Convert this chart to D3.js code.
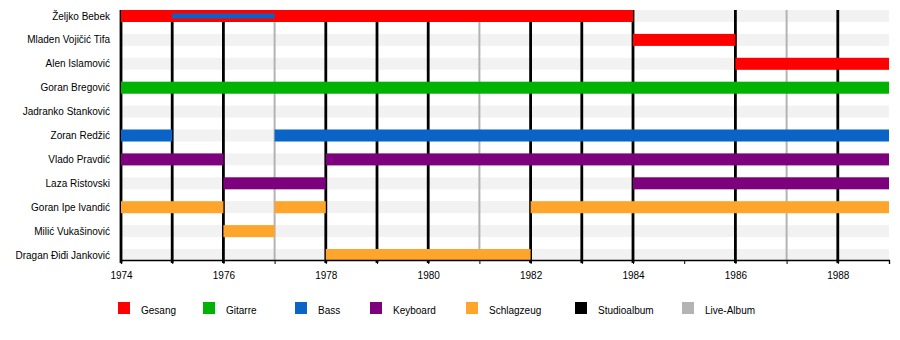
<!DOCTYPE html>
<html>
<head>
<meta charset="utf-8">
<script src="https://cdn.jsdelivr.net/npm/d3@7"></script>
<style>
  html, body { margin: 0; padding: 0; background: #fff; }
  svg { display: block; font-family: "Liberation Sans", Arial, sans-serif; }
</style>
</head>
<body>
<svg id="chart" width="900" height="340"></svg>
<script>
// ---- Data ----
const members = [
  "Željko Bebek", "Mladen Vojičić Tifa", "Alen Islamović", "Goran Bregović",
  "Jadranko Stanković", "Zoran Redžić", "Vlado Pravdić", "Laza Ristovski",
  "Goran Ipe Ivandić", "Milić Vukašinović", "Dragan Điđi Janković"
];
const roles = ["Gesang", "Gitarre", "Bass", "Keyboard", "Schlagzeug"];
const albumTypes = ["Studioalbum", "Live-Album"];
// [member, role, start, end]
const periods = [
  ["Željko Bebek", "Gesang", 1974, 1984],
  ["Mladen Vojičić Tifa", "Gesang", 1984, 1986],
  ["Alen Islamović", "Gesang", 1986, 1989],
  ["Goran Bregović", "Gitarre", 1974, 1989],
  ["Zoran Redžić", "Bass", 1974, 1975],
  ["Zoran Redžić", "Bass", 1977, 1989],
  ["Vlado Pravdić", "Keyboard", 1974, 1976],
  ["Vlado Pravdić", "Keyboard", 1978, 1989],
  ["Laza Ristovski", "Keyboard", 1976, 1978],
  ["Laza Ristovski", "Keyboard", 1984, 1989],
  ["Goran Ipe Ivandić", "Schlagzeug", 1974, 1976],
  ["Goran Ipe Ivandić", "Schlagzeug", 1977, 1978],
  ["Goran Ipe Ivandić", "Schlagzeug", 1982, 1989],
  ["Milić Vukašinović", "Schlagzeug", 1976, 1977],
  ["Dragan Điđi Janković", "Schlagzeug", 1978, 1982]
];
// secondary (thin) role bars
const secondaryPeriods = [
  ["Željko Bebek", "Bass", 1975, 1977]
];
const studioAlbums = [1974, 1975, 1976, 1978, 1979, 1980, 1982, 1983, 1984, 1986, 1988];
const liveAlbums = [1977, 1981, 1987];
const tickYears = [1974, 1975, 1976, 1977, 1978, 1979, 1980, 1981, 1982, 1983, 1984, 1985, 1986, 1987, 1988, 1989];
const labelYears = [1974, 1976, 1978, 1980, 1982, 1984, 1986, 1988];

// ---- Styles / layout ----
const roleColor = d3.scaleOrdinal()
  .domain(roles.concat(albumTypes))
  .range(["#ff0000", "#00b300", "#0a64c8", "#7d007d", "#ffa52c", "#000000", "#b3b3b3"]);
const legendX = [118, 203, 295, 370, 466, 575, 682];

const svg = d3.select("#chart");
const x = d3.scaleLinear().domain([1974, 1989]).range([121, 889]);
const y = d3.scalePoint().domain(members).range([16, 255]);
const barH = 12;
const plotTop = 10, axisY = 260;

// stripes
svg.append("g").selectAll("rect").data(members).join("rect")
  .attr("x", x(1974)).attr("width", x(1989) - x(1974))
  .attr("y", d => y(d) - barH / 2).attr("height", barH)
  .attr("fill", "#f2f2f2");

// album lines
svg.append("g").selectAll("line").data(liveAlbums).join("line")
  .attr("x1", d => x(d)).attr("x2", d => x(d))
  .attr("y1", plotTop).attr("y2", axisY)
  .attr("stroke", roleColor("Live-Album")).attr("stroke-width", 2);
svg.append("g").selectAll("line").data(studioAlbums).join("line")
  .attr("x1", d => x(d)).attr("x2", d => x(d))
  .attr("y1", plotTop).attr("y2", axisY + 3)
  .attr("stroke", roleColor("Studioalbum")).attr("stroke-width", 2.8);

// bars
svg.append("g").selectAll("rect").data(periods).join("rect")
  .attr("x", d => x(d[2])).attr("width", d => x(d[3]) - x(d[2]))
  .attr("y", d => y(d[0]) - barH / 2).attr("height", barH)
  .attr("fill", d => roleColor(d[1]));
svg.append("g").selectAll("rect").data(secondaryPeriods).join("rect")
  .attr("x", d => x(d[2])).attr("width", d => x(d[3]) - x(d[2]))
  .attr("y", d => y(d[0]) - 2.5).attr("height", 5)
  .attr("fill", d => roleColor(d[1]));

// names
svg.append("g").selectAll("text").data(members).join("text")
  .attr("x", 110).attr("y", d => y(d)).attr("dy", "0.35em")
  .attr("text-anchor", "end").attr("font-size", 10).attr("fill", "#000")
  .text(d => d);

// axis
const axis = d3.axisBottom(x)
  .tickValues(tickYears)
  .tickSize(4)
  .tickPadding(8)
  .tickFormat(d => labelYears.includes(d) ? d : "");
const ag = svg.append("g").attr("transform", `translate(0,${axisY})`).call(axis);
ag.select(".domain").attr("stroke", "#000").attr("stroke-width", 1.3);
ag.selectAll(".tick line").attr("stroke", "#000");
ag.selectAll(".tick text").attr("font-size", 10).attr("fill", "#000")
  .attr("font-family", "'Liberation Sans', Arial, sans-serif");

// legend
const legendItems = roles.concat(albumTypes);
const lg = svg.append("g").selectAll("g").data(legendItems).join("g")
  .attr("transform", (d, i) => `translate(${legendX[i]},302)`);
lg.append("rect").attr("width", 12).attr("height", 12).attr("fill", d => roleColor(d));
lg.append("text").attr("x", 23).attr("y", 11.5).attr("font-size", 10).attr("fill", "#000").text(d => d);
</script>
</body>
</html>
